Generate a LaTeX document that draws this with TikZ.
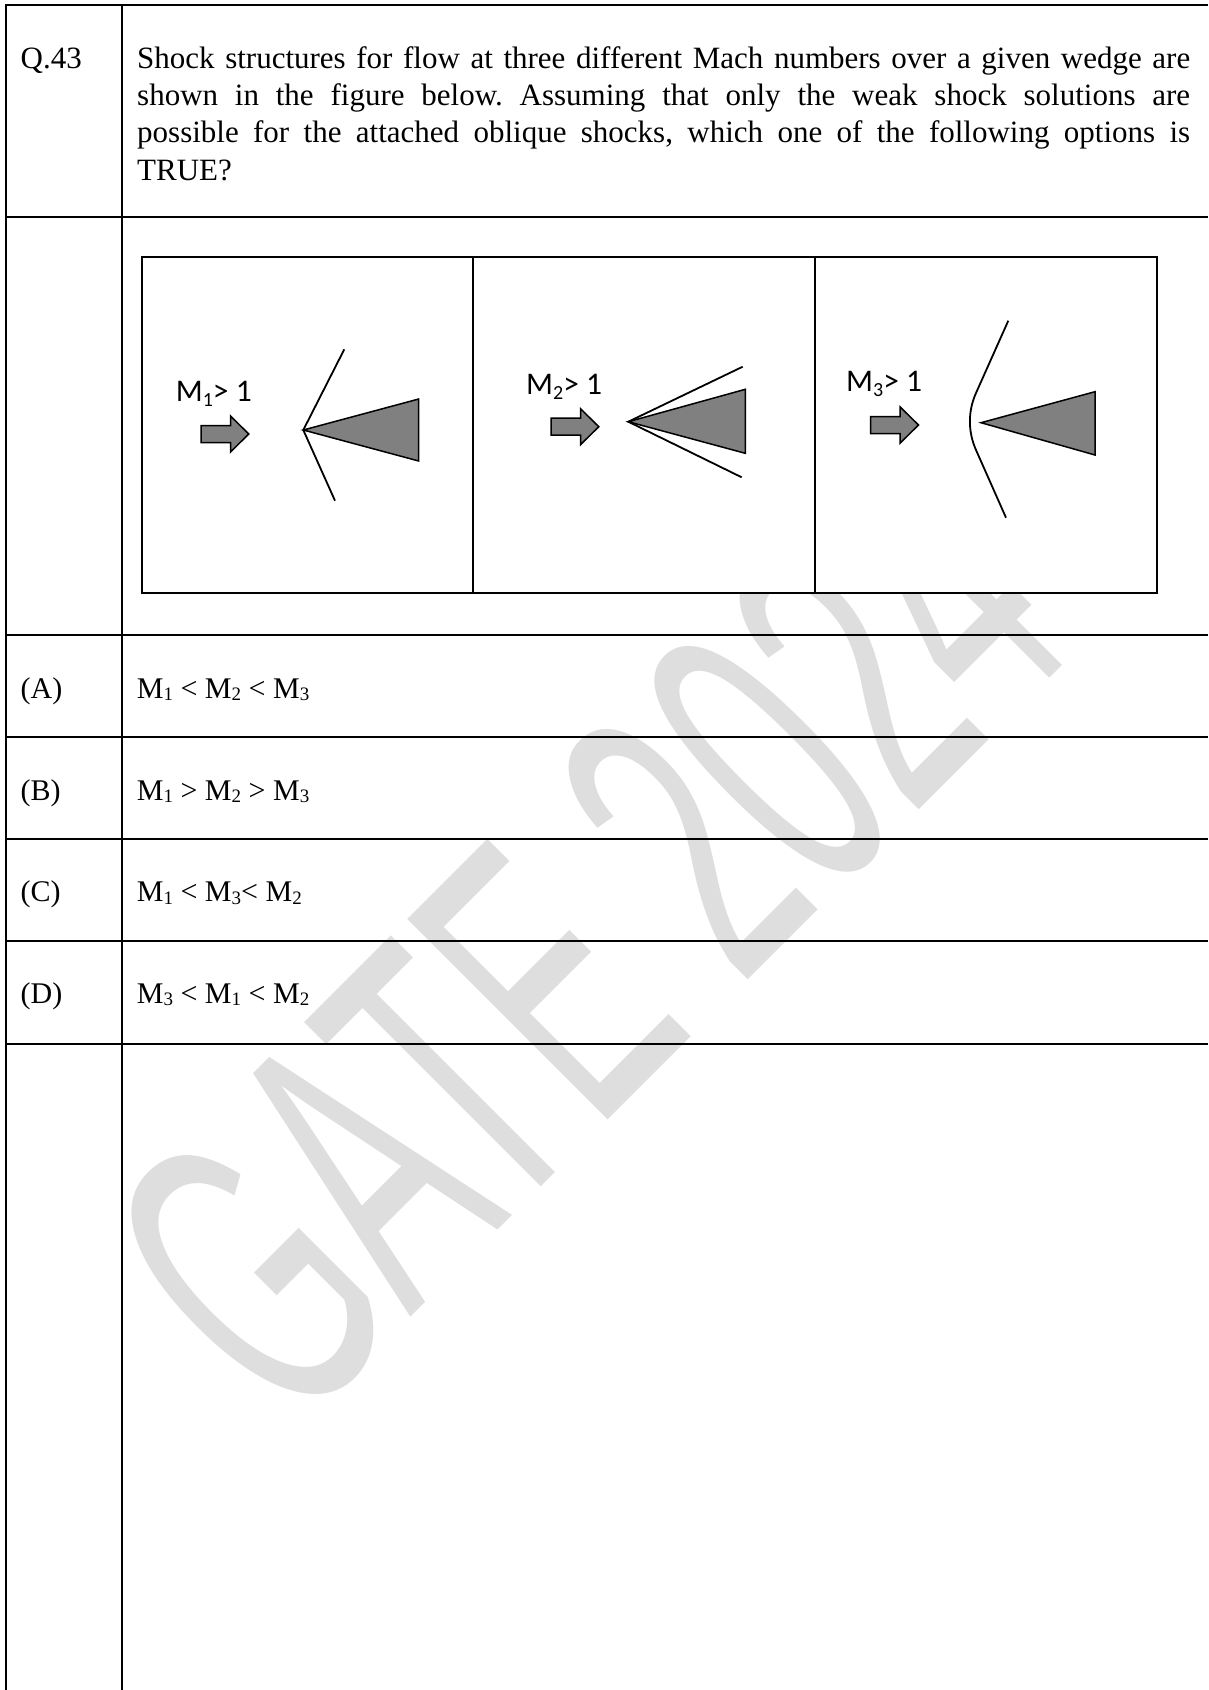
\documentclass[tikz,border=0pt]{standalone}
\usepackage{fontspec}
\setmainfont{Liberation Serif}
\newfontfamily\labelfont{Carlito}
\newfontfamily\wmfont{Liberation Sans}
\definecolor{wmgray}{HTML}{DEDEDE}
\definecolor{solidgray}{HTML}{808080}
\newcommand\ansub[1]{\raisebox{-2.5pt}{\fontsize{19}{19}\selectfont #1}}
\newcommand\lblsub[1]{\raisebox{-5pt}{\fontsize{20}{20}\selectfont #1}}
\frenchspacing
\begin{document}
\begin{tikzpicture}[x=1pt,y=-1pt,
  rule/.style={line width=2pt},
  framebox/.style={line width=2pt},
  shockline/.style={line width=1.8pt},
  wedgeshape/.style={fill=solidgray, draw=black, line width=1.5pt, line join=miter},
  qtext/.style={anchor=base west, inner sep=0pt, font=\fontsize{31}{37}\selectfont},
  anstext/.style={anchor=base west, inner sep=0pt, font=\fontsize{30}{36}\selectfont},
  machlabel/.style={anchor=base west, inner sep=0pt, font=\labelfont\fontsize{31.5}{31.5}\selectfont},
  wm/.style={text=wmgray, font=\wmfont\fontsize{412}{412}\selectfont, anchor=base, inner sep=0pt},
  flowarrow/.pic={\filldraw[fill=solidgray, draw=black, line width=1.5pt, line join=miter]
     (0,-8.5) -- (29.5,-8.5) -- (29.5,-18) -- (47.8,0) -- (29.5,18) -- (29.5,8.5) -- (0,8.5) -- cycle;}
]
\useasboundingbox (0,0) rectangle (1208,1690);
\fill[white] (0,0) rectangle (1208,1690);

% watermark
\begin{scope}[shift={(686.5,1041.5)}, cm={0.3726,0.3726,-0.7071,0.7071,(0,0)}, transform shape]
\node[wm] (watermark) at (0,0) {GATE 2024};
\end{scope}

% table
\draw[rule] (6,5) -- (1208,5);
\draw[rule] (6,216.7) -- (1208,216.7);
\draw[rule] (6,635) -- (1208,635);
\draw[rule] (6,737) -- (1208,737);
\draw[rule] (6,839) -- (1208,839);
\draw[rule] (6,941) -- (1208,941);
\draw[rule] (6,1044) -- (1208,1044);
\draw[rule] (6,4) -- (6,1690);
\draw[rule] (121.7,4) -- (121.7,1690);

% question
\node[qtext] (qno) at (20.5,68.3) {Q.43};
\node[qtext] (ql1) at (137,68.3) {\makebox[1053pt][s]{Shock structures for flow at three different Mach numbers over a given wedge are}};
\node[qtext] (ql2) at (137,105.6) {\makebox[1053pt][s]{shown in the figure below. Assuming that only the weak shock solutions are}};
\node[qtext] (ql3) at (137,142.9) {\makebox[1053pt][s]{possible for the attached oblique shocks, which one of the following options is}};
\node[qtext] (ql4) at (137,180.2) {TRUE?};

% figure frame
\filldraw[framebox, fill=white] (141.5,257) rectangle (1157,592.5);
\draw[framebox] (472.7,257) -- (472.7,592.5);
\draw[framebox] (814.5,257) -- (814.5,592.5);

% panel 1
\node[machlabel] (lab1) at (175.7,401) {M\lblsub{1}> 1};
\pic at (201,434) {flowarrow};
\coordinate (v1) at (303.3,430);
\coordinate (s1a) at (344.3,349.3);
\coordinate (s1b) at (335,500.7);
\filldraw[wedgeshape] (v1) -- (418.7,399) -- (418.7,461) -- cycle;
\draw[shockline] (s1a) -- (v1) -- (s1b);

% panel 2
\node[machlabel] (lab2) at (526,394.3) {M\lblsub{2}> 1};
\pic at (551,426.7) {flowarrow};
\coordinate (v2) at (628.3,421.7);
\coordinate (s2a) at (742.7,366.7);
\coordinate (s2b) at (741.7,477.3);
\filldraw[wedgeshape] (v2) -- (745.3,389.3) -- (745.3,453.3) -- cycle;
\draw[shockline] (s2a) -- (v2) -- (s2b);

% panel 3
\node[machlabel] (lab3) at (846,391.7) {M\lblsub{3}> 1};
\pic at (870.7,425) {flowarrow};
\coordinate (v3) at (981,422.7);
\filldraw[wedgeshape] (v3) -- (1095,391.7) -- (1095,455) -- cycle;
\coordinate (s3a) at (1008.3,320.7);
\coordinate (s3b) at (1006,517.7);
\draw[shockline] (s3a) -- (976,393) .. controls (967.8,411.3) and (967.9,431.7) .. (976,450) -- (s3b);

% options
\node[anstext] (optA) at (20.5,698.3) {(A)};
\node[anstext] (ansA) at (136.7,698.3) {M\ansub{1} < M\ansub{2} < M\ansub{3}};
\node[anstext] (optB) at (20.5,800) {(B)};
\node[anstext] (ansB) at (136.7,800) {M\ansub{1} > M\ansub{2} > M\ansub{3}};
\node[anstext] (optC) at (20.5,901.7) {(C)};
\node[anstext] (ansC) at (136.7,901.7) {M\ansub{1} < M\ansub{3}< M\ansub{2}};
\node[anstext] (optD) at (20.5,1003.3) {(D)};
\node[anstext] (ansD) at (136.7,1003.3) {M\ansub{3} < M\ansub{1} < M\ansub{2}};
\end{tikzpicture}
\end{document}
